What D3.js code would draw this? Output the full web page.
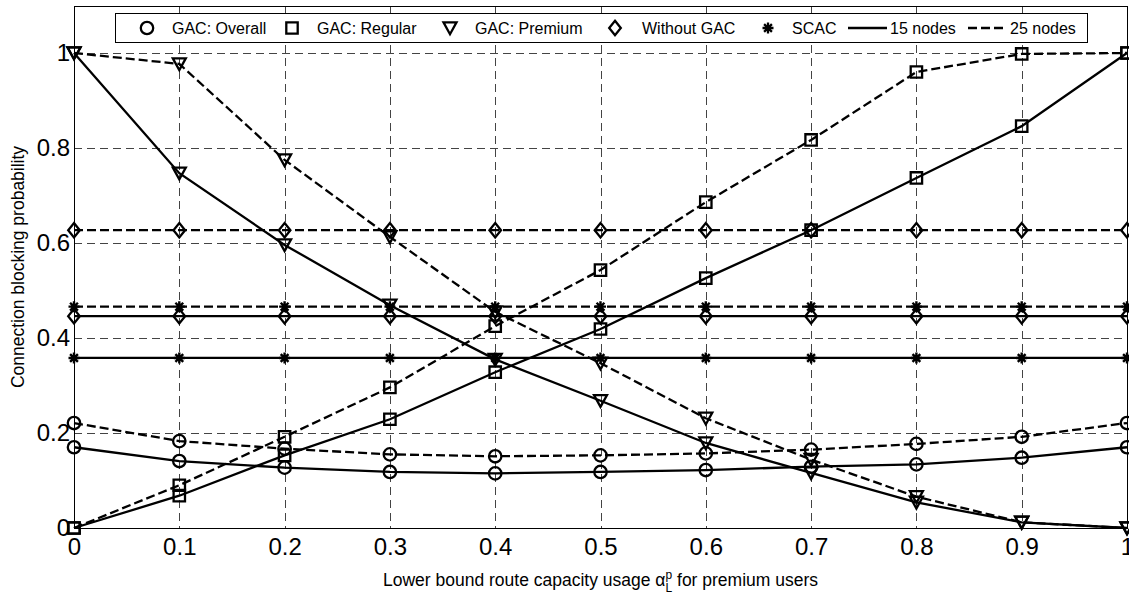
<!DOCTYPE html>
<html>
<head>
<meta charset="utf-8">
<script src="https://cdn.jsdelivr.net/npm/d3@7"></script>
<style>
  html, body { margin: 0; padding: 0; background: #fff; }
  svg { display: block; font-family: "Liberation Sans", Arial, Helvetica, sans-serif; }
</style>
</head>
<body>
<svg id="chart" width="1129" height="595"></svg>
<script>
// Lower bound route capacity usage for premium users
const alphaValues = [0, 0.1, 0.2, 0.3, 0.4, 0.5, 0.6, 0.7, 0.8, 0.9, 1.0];

// Blocking probability, 15-node network
const overall15  = [0.170, 0.141, 0.127, 0.118, 0.115, 0.118, 0.122, 0.129, 0.134, 0.148, 0.170];
const regular15  = [0.000, 0.068, 0.153, 0.229, 0.328, 0.419, 0.526, 0.627, 0.737, 0.846, 1.000];
const premium15  = [1.000, 0.747, 0.596, 0.469, 0.355, 0.268, 0.179, 0.116, 0.054, 0.012, 0.000];
const noGac15    = [0.446, 0.446, 0.446, 0.446, 0.446, 0.446, 0.446, 0.446, 0.446, 0.446, 0.446];
const scac15     = [0.358, 0.358, 0.358, 0.358, 0.358, 0.358, 0.358, 0.358, 0.358, 0.358, 0.358];

// Blocking probability, 25-node network
const overall25  = [0.221, 0.183, 0.167, 0.155, 0.151, 0.153, 0.157, 0.165, 0.177, 0.192, 0.221];
const regular25  = [0.000, 0.090, 0.192, 0.296, 0.425, 0.543, 0.686, 0.817, 0.960, 0.998, 1.000];
const premium25  = [1.000, 0.977, 0.775, 0.613, 0.455, 0.347, 0.231, 0.144, 0.066, 0.012, 0.000];
const noGac25    = [0.627, 0.627, 0.627, 0.627, 0.627, 0.627, 0.627, 0.627, 0.627, 0.627, 0.627];
const scac25     = [0.466, 0.466, 0.466, 0.466, 0.466, 0.466, 0.466, 0.466, 0.466, 0.466, 0.466];

const xTickValues = [0, 0.1, 0.2, 0.3, 0.4, 0.5, 0.6, 0.7, 0.8, 0.9, 1];
const xTickLabels = ["0", "0.1", "0.2", "0.3", "0.4", "0.5", "0.6", "0.7", "0.8", "0.9", "1"];
const yTickValues = [0, 0.2, 0.4, 0.6, 0.8, 1];
const yTickLabels = ["0", "0.2", "0.4", "0.6", "0.8", "1"];

const legendLabels = ["GAC: Overall", "GAC: Regular", "GAC: Premium", "Without GAC", "SCAC", "15 nodes", "25 nodes"];

const series = [
  { values: overall15, marker: "circle",   dashed: false },
  { values: overall25, marker: "circle",   dashed: true  },
  { values: regular15, marker: "square",   dashed: false },
  { values: regular25, marker: "square",   dashed: true  },
  { values: premium15, marker: "triangle", dashed: false },
  { values: premium25, marker: "triangle", dashed: true  },
  { values: noGac15,   marker: "diamond",  dashed: false },
  { values: noGac25,   marker: "diamond",  dashed: true  },
  { values: scac15,    marker: "star",     dashed: false },
  { values: scac25,    marker: "star",     dashed: true  }
];

const svg = d3.select("#chart");
const plot = { left: 74, right: 1127, top: 6, bottom: 528 };

const x = d3.scaleLinear().domain([0, 1]).range([plot.left, plot.right]);
const y = d3.scaleLinear().domain([0, 1.1]).range([plot.bottom, plot.bottom - 1.1 * 475]);

const DASH = "9,4";
const GRID_DASH = "8,5";
const LINE_W = 2.3;

// Grid
const grid = svg.append("g").attr("class", "grid")
  .attr("stroke", "#444").attr("stroke-width", 1).attr("stroke-dasharray", GRID_DASH)
  .attr("shape-rendering", "crispEdges");
grid.selectAll("line.v").data(xTickValues.slice(1, -1)).join("line")
  .attr("class", "v")
  .attr("x1", d => Math.round(x(d)) + 0.5).attr("x2", d => Math.round(x(d)) + 0.5)
  .attr("y1", plot.top).attr("y2", plot.bottom);
grid.selectAll("line.h").data(yTickValues.slice(1)).join("line")
  .attr("class", "h")
  .attr("y1", d => Math.round(y(d)) + 0.5).attr("y2", d => Math.round(y(d)) + 0.5)
  .attr("x1", plot.left).attr("x2", plot.right);

// Marker shapes
function markerPath(type) {
  switch (type) {
    case "square": return "M-5.7,-5.7H5.7V5.7H-5.7Z";
    case "triangle": return "M-6.5,-5.6H6.5L0,6.2Z";
    case "diamond": return "M0,-7.2L5.8,0L0,7.2L-5.8,0Z";
    case "star": return "M0,-5.5V5.5M-5.5,0H5.5M-3.9,-3.9L3.9,3.9M-3.9,3.9L3.9,-3.9";
  }
}
function drawMarker(sel, type) {
  if (type === "circle") {
    sel.append("circle").attr("r", 6.2);
  } else {
    sel.append("path").attr("d", markerPath(type));
  }
}

const line = d3.line().x((d, i) => x(alphaValues[i])).y(d => y(d));

const dataLayer = svg.append("g").attr("class", "series");
series.forEach(s => {
  const g = dataLayer.append("g");
  g.append("path")
    .attr("d", line(s.values))
    .attr("fill", "none").attr("stroke", "#000").attr("stroke-width", LINE_W)
    .attr("stroke-dasharray", s.dashed ? DASH : null);
  g.selectAll("g.m").data(s.values).join("g")
    .attr("class", "m")
    .attr("transform", (d, i) => `translate(${x(alphaValues[i])},${y(d)})`)
    .attr("fill", "none").attr("stroke", "#000")
    .attr("stroke-width", s.marker === "star" ? 2.4 : LINE_W)
    .each(function () { drawMarker(d3.select(this), s.marker); });
});

// Frame
svg.append("rect")
  .attr("x", plot.left + 0.5).attr("y", plot.top + 0.5)
  .attr("width", plot.right - plot.left).attr("height", plot.bottom - plot.top)
  .attr("fill", "none").attr("stroke", "#000").attr("stroke-width", 1)
  .attr("shape-rendering", "crispEdges");

// Axes (labels only, frame and grid carry the lines)
const xAxis = svg.append("g")
  .attr("transform", `translate(0,${plot.bottom})`)
  .call(d3.axisBottom(x).tickValues(xTickValues)
    .tickFormat((d, i) => xTickLabels[i]).tickSize(0).tickPadding(10));
const yAxis = svg.append("g")
  .attr("transform", `translate(${plot.left},0)`)
  .call(d3.axisLeft(y).tickValues(yTickValues)
    .tickFormat((d, i) => yTickLabels[i]).tickSize(0).tickPadding(4));
[xAxis, yAxis].forEach(a => {
  a.select(".domain").remove();
  a.selectAll("text")
    .attr("font-family", "'Liberation Sans', Arial, sans-serif")
    .attr("font-size", 24).attr("fill", "#000");
});

// Axis titles
const xTitle = svg.append("text")
  .attr("x", (plot.left + plot.right) / 2).attr("y", 586)
  .attr("text-anchor", "middle").attr("font-size", 17.5).attr("fill", "#000");
xTitle.append("tspan").text("Lower bound route capacity usage \u03B1");
xTitle.append("tspan").attr("font-size", 12).attr("dy", -7).text("p");
xTitle.append("tspan").attr("font-size", 12).attr("dx", -6.7).attr("dy", 13).text("L");
xTitle.append("tspan").attr("dy", -6).text(" for premium users");

svg.append("text")
  .attr("transform", `translate(24,${(plot.top + plot.bottom) / 2}) rotate(-90)`)
  .attr("text-anchor", "middle").attr("font-size", 17.5).attr("fill", "#000")
  .text("Connection blocking probability");

// Legend
const legend = svg.append("g").attr("class", "legend");
legend.append("rect")
  .attr("x", 115.5).attr("y", 13.5).attr("width", 972).attr("height", 29)
  .attr("fill", "#fff").attr("stroke", "#000").attr("stroke-width", 1)
  .attr("shape-rendering", "crispEdges");
const ly = 28;
const legendItems = [
  { label: legendLabels[0], marker: "circle",   mx: 147, tx: 172 },
  { label: legendLabels[1], marker: "square",   mx: 292, tx: 317 },
  { label: legendLabels[2], marker: "triangle", mx: 450, tx: 475 },
  { label: legendLabels[3], marker: "diamond",  mx: 615, tx: 642 },
  { label: legendLabels[4], marker: "star",     mx: 768, tx: 792 },
  { label: legendLabels[5], line: "solid",  x1: 848, x2: 887, tx: 890 },
  { label: legendLabels[6], line: "dashed", x1: 968, x2: 1007, tx: 1010 }
];
legendItems.forEach(it => {
  if (it.marker) {
    const m = legend.append("g")
      .attr("transform", `translate(${it.mx},${ly})`)
      .attr("fill", "none").attr("stroke", "#000").attr("stroke-width", LINE_W);
    drawMarker(m, it.marker);
  } else {
    legend.append("line")
      .attr("x1", it.x1).attr("x2", it.x2).attr("y1", ly).attr("y2", ly)
      .attr("stroke", "#000").attr("stroke-width", LINE_W)
      .attr("stroke-dasharray", it.line === "dashed" ? DASH : null);
  }
  legend.append("text")
    .attr("x", it.tx).attr("y", ly).attr("dy", "0.36em")
    .attr("font-size", 16).attr("fill", "#000")
    .text(it.label);
});
</script>
</body>
</html>
